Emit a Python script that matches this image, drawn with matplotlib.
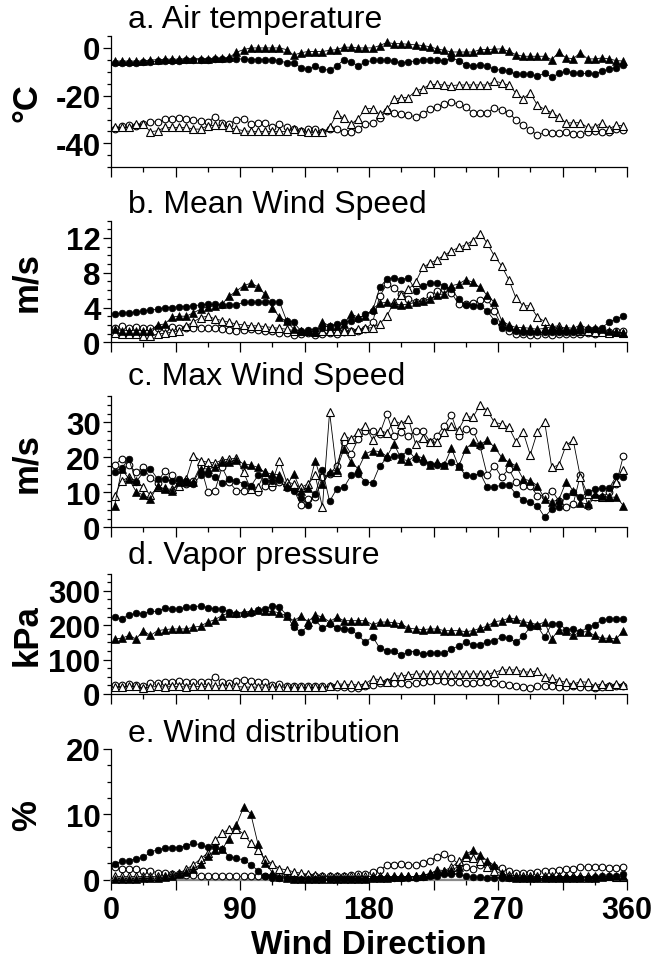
import numpy as np
import matplotlib
matplotlib.use("Agg")
import matplotlib.pyplot as plt
from matplotlib.ticker import MultipleLocator, FixedLocator, FuncFormatter

plt.rcParams['font.family'] = ['Liberation Sans', 'DejaVu Sans']
plt.rcParams['axes.unicode_minus'] = False

# wind direction bin centres (degrees)
direction = np.arange(2.5, 360, 5.0)

# ---------------- a. Air temperature (deg C)
temp_fc = [-6.3,-6.3,-6.3,-6.3,-6.0,-6.0,-5.5,-5.5,-5.3,-5.3,
           -5.0,-5.0,-4.9,-4.9,-4.7,-4.5,-4.5,-4.5,-4.7,-4.9,
           -4.9,-5.0,-5.0,-5.3,-6.3,-6.2,-8.3,-9.0,-7.6,-9.0,
           -9.3,-7.6,-4.9,-6.0,-7.4,-6.0,-5.2,-5.2,-5.2,-5.5,
           -6.3,-6.0,-5.3,-5.0,-4.9,-5.0,-5.5,-4.2,-5.3,-7.0,
           -7.6,-7.0,-7.6,-9.0,-9.3,-9.7,-11.0,-11.0,-11.0,-11.8,
           -10.7,-12.2,-10.7,-9.7,-10.4,-10.7,-10.7,-11.0,-9.7,-9.0,
           -8.3,-7.2]
temp_ft = [-5.5,-5.5,-5.5,-5.5,-5.5,-5.0,-5.0,-4.7,-4.7,-4.7,
           -4.5,-4.5,-4.5,-4.5,-4.3,-4.3,-4.0,-1.8,-0.7,0.0,
           0.0,0.0,0.0,0.0,-0.7,-3.0,-2.0,-1.5,-1.5,-1.5,
           -1.0,-0.7,0.3,0.3,0.0,0.0,0.0,1.0,2.3,1.8,
           1.8,1.5,1.3,1.0,0.5,-0.4,-1.0,-1.7,-1.7,-1.7,
           -1.7,-0.7,-0.7,-0.5,-0.4,-1.4,-2.8,-3.5,-3.5,-3.5,
           -3.5,-4.9,-1.8,-4.2,-4.5,-2.0,-4.6,-4.6,-4.2,-4.6,
           -5.3,-5.5]
temp_oc = [-33.8,-32.6,-32.4,-32.6,-31.9,-31.0,-31.0,-29.9,-29.9,-29.2,
           -29.9,-30.3,-30.6,-31.0,-28.8,-31.3,-31.7,-30.1,-29.9,-31.7,
           -31.5,-31.5,-33.3,-31.9,-33.3,-34.0,-34.7,-34.0,-34.0,-35.4,
           -33.8,-34.0,-35.1,-35.1,-33.8,-31.9,-31.3,-29.2,-26.4,-27.4,
           -27.8,-28.2,-28.8,-27.5,-25.7,-24.6,-23.6,-22.5,-23.6,-24.6,
           -27.4,-27.4,-27.1,-25.3,-26.0,-27.1,-30.1,-32.4,-34.4,-36.5,
           -35.4,-35.7,-35.7,-35.4,-36.1,-36.1,-35.4,-34.7,-35.1,-35.4,
           -34.0,-34.3]
temp_ot = [-33.3,-33.3,-33.3,-31.9,-31.9,-35.1,-34.7,-33.3,-33.3,-33.3,
           -33.3,-34.0,-34.0,-32.6,-32.4,-32.4,-33.3,-34.0,-34.7,-35.0,
           -35.0,-35.0,-35.0,-35.0,-35.0,-34.0,-35.0,-35.4,-35.4,-35.4,
           -33.3,-27.8,-29.4,-31.9,-29.6,-25.4,-25.4,-27.8,-25.7,-21.5,
           -20.8,-20.8,-18.0,-17.1,-15.3,-15.3,-15.5,-15.8,-15.5,-15.5,
           -15.5,-15.5,-15.5,-13.9,-14.6,-15.7,-18.8,-21.3,-18.8,-24.0,
           -25.7,-27.1,-28.9,-31.5,-31.3,-31.3,-33.3,-33.1,-31.3,-33.8,
           -32.4,-32.6]

# ---------------- b. Mean wind speed (m/s)
mean_fc = [3.25,3.35,3.4,3.5,3.6,3.7,3.8,4.0,4.0,4.1,
           4.1,4.2,4.3,4.35,4.35,4.3,4.3,4.3,4.6,4.6,
           4.6,4.6,4.6,4.65,2.5,2.3,1.3,1.45,1.45,1.7,
           1.9,2.1,2.3,2.5,2.7,3.25,3.6,6.3,7.3,7.4,
           7.2,7.4,5.9,6.5,6.8,6.8,6.5,6.1,5.0,4.3,
           4.2,4.2,3.6,2.5,1.7,1.7,1.3,1.15,1.15,1.15,
           1.15,1.15,1.15,1.15,1.15,1.3,1.5,1.5,1.7,2.3,
           2.7,3.0]
mean_ft = [1.5,1.35,1.35,1.35,1.35,1.35,2.0,2.1,2.9,3.0,
           3.0,3.4,3.8,4.1,4.2,4.4,5.3,5.9,6.5,6.8,
           6.4,5.5,4.0,2.9,2.4,1.5,1.35,1.25,1.2,2.3,
           1.9,1.9,2.1,3.25,2.9,3.05,3.8,4.5,4.6,4.4,
           4.3,4.4,4.6,4.75,5.0,5.4,5.6,6.5,6.7,7.2,
           6.9,6.3,5.4,4.6,2.5,2.0,1.7,1.7,1.6,1.5,
           1.6,1.8,1.6,1.7,1.6,2.0,1.6,1.7,1.5,1.35,
           1.15,1.1]
mean_oc = [1.6,1.9,1.7,1.8,1.7,1.6,1.7,1.7,1.8,1.7,
           1.7,1.7,1.7,1.6,1.6,1.5,1.45,1.35,1.45,1.5,
           1.45,1.35,1.25,1.05,1.05,0.85,0.95,1.05,0.85,0.95,
           1.05,0.95,1.15,1.25,1.35,1.5,2.3,5.3,6.7,6.2,
           5.6,5.0,4.6,4.75,5.4,5.9,6.1,5.7,4.4,4.4,
           4.5,4.9,5.0,3.6,1.9,1.35,0.95,0.95,0.85,0.85,
           0.95,0.85,0.95,0.95,0.95,0.95,1.05,0.95,1.15,1.15,
           1.25,1.35]
mean_ot = [1.05,0.95,0.95,0.95,0.75,0.75,0.95,1.05,1.15,1.35,
           1.9,2.35,2.85,3.0,2.7,2.5,2.3,2.1,2.0,1.9,
           1.9,1.8,1.7,1.6,1.5,1.35,1.35,1.25,1.15,1.35,
           1.35,1.35,1.25,1.35,1.5,1.6,1.7,2.1,3.05,4.6,
           5.4,6.1,6.9,8.6,9.1,9.5,10.0,10.5,10.9,11.2,
           11.7,12.5,11.4,9.9,8.8,7.2,5.1,4.2,4.2,2.9,
           2.4,1.8,1.9,1.5,1.5,1.35,1.25,1.15,1.15,1.05,
           1.15,1.05]

# ---------------- c. Max wind speed (m/s)
max_fc = [15.9,17.0,19.5,13.0,15.7,16.7,13.8,13.8,13.1,13.8,
          13.3,12.4,14.8,15.2,14.3,12.6,13.8,13.3,12.4,11.7,
          14.8,13.3,13.3,13.5,11.1,10.5,8.3,6.5,9.5,16.5,
          7.4,11.0,11.4,14.8,15.2,13.0,12.7,17.6,19.7,20.3,
          20.5,21.9,19.5,18.6,18.1,17.8,17.8,18.6,17.4,14.8,
          14.6,15.5,11.4,11.4,12.1,12.1,9.5,7.9,7.1,6.2,
          2.9,5.2,5.7,9.0,10.2,8.6,10.0,10.8,11.1,11.1,
          14.6,14.3]
max_ft = [6.2,16.7,13.8,10.2,9.2,8.1,11.9,10.8,10.5,12.9,
          12.9,12.9,16.7,16.7,17.1,18.6,18.6,19.3,18.1,17.8,
          17.1,15.7,15.2,15.0,11.9,15.2,10.5,11.1,19.0,12.4,
          15.7,16.5,22.4,18.6,16.7,21.0,21.9,21.6,20.3,23.8,
          19.5,19.0,20.5,19.8,17.8,18.6,17.8,22.6,17.4,22.4,
          24.3,23.8,24.8,22.9,20.0,18.6,17.6,13.8,13.3,11.9,
          8.1,7.3,7.9,13.0,10.5,7.0,6.7,9.5,8.9,8.6,
          8.6,6.2]
max_oc = [17.8,19.5,17.8,15.7,17.1,14.0,12.7,16.2,14.8,12.9,
          12.4,13.3,17.6,10.2,10.5,17.1,12.9,10.5,10.5,11.4,
          10.0,11.7,11.4,12.9,11.7,10.8,6.4,8.1,8.6,14.3,
          15.2,17.6,24.3,21.0,25.2,27.6,27.6,26.7,32.4,26.2,
          27.3,26.0,27.6,27.6,24.5,26.2,29.0,32.1,26.2,28.1,
          27.6,23.1,14.8,17.6,14.3,16.7,12.9,11.9,11.9,9.0,
          9.0,10.5,7.6,5.7,6.7,15.0,6.2,8.6,8.6,10.0,
          12.4,20.5]
max_ot = [8.9,13.3,14.3,13.3,11.4,9.2,11.4,11.1,10.8,11.9,
          13.8,20.5,19.0,18.6,18.4,19.2,19.5,19.7,15.7,11.0,
          11.4,15.7,12.9,19.0,13.0,12.4,11.4,12.4,14.8,5.7,
          32.9,15.7,26.2,25.2,27.3,29.0,25.0,27.6,27.0,30.5,
          29.5,31.0,23.8,25.4,24.3,24.3,27.1,29.0,27.9,31.7,
          31.4,35.0,33.3,30.0,29.5,28.6,24.5,27.3,20.7,27.3,
          30.2,17.1,17.8,23.5,24.8,14.3,9.5,9.0,8.6,8.6,
          12.9,16.4]

# ---------------- d. Vapor pressure (kPa)
vap_fc = [223,218,230,234,233,240,240,250,247,247,
          252,252,257,250,247,247,238,233,233,236,
          243,247,257,252,230,194,180,197,215,191,
          204,191,189,187,170,150,167,133,126,124,
          112,123,123,116,119,119,118,131,139,150,
          143,143,152,155,165,162,150,168,194,197,
          165,204,204,187,189,180,194,201,215,218,
          218,218]
vap_ft = [160,162,170,160,184,170,184,187,189,189,
          189,194,197,209,216,228,236,236,238,240,
          243,240,240,236,226,213,226,210,230,223,
          210,223,213,213,213,213,201,209,209,207,
          204,191,189,187,189,189,184,184,184,181,
          184,191,197,210,213,220,218,210,207,201,
          209,160,187,184,170,180,181,170,162,162,
          160,184]
vap_oc = [26,26,28,26,24,33,32,36,34,39,
          36,36,34,34,49,34,32,39,42,39,
          36,36,26,29,24,24,24,22,22,22,
          22,19,19,17,17,22,26,32,36,32,
          32,29,32,36,39,42,39,36,34,32,
          32,34,34,32,29,26,24,19,17,24,
          22,24,19,19,22,19,19,17,19,24,
          24,22]
vap_ot = [21,21,22,22,18,20,22,20,22,22,
          20,22,22,22,24,24,24,22,20,20,
          20,20,20,20,20,19,19,19,19,20,
          22,30,28,28,26,30,44,42,35,53,
          52,56,58,58,58,58,58,58,58,58,
          58,58,58,62,70,70,70,65,63,68,
          48,46,39,34,29,36,34,24,30,24,
          28,26]

# ---------------- e. Wind distribution (%)
dist_fc = [2.4,2.8,2.9,3.2,3.4,4.2,4.6,4.8,4.9,4.9,
           5.2,5.6,5.3,5.0,5.0,4.7,3.5,3.3,3.0,2.3,
           1.4,0.5,0.3,0.3,0.2,0.1,0.1,0.1,0.1,0.1,
           0.1,0.1,0.1,0.1,0.1,0.1,0.2,0.2,0.2,0.2,
           0.3,0.3,0.3,0.4,0.5,0.6,0.8,0.9,0.9,0.5,
           0.4,0.4,0.3,0.3,0.3,0.3,0.2,0.2,0.2,0.2,
           0.2,0.2,0.2,0.2,0.3,0.3,0.3,0.4,0.5,0.5,
           0.6,0.9]
dist_ft = [0.1,0.1,0.1,0.1,0.2,0.2,0.3,0.4,0.5,0.8,
           1.2,1.6,2.4,3.6,4.5,4.7,6.3,8.4,11.1,10.1,
           5.5,2.6,1.1,0.4,0.2,0.1,0.1,0.1,0.1,0.1,
           0.1,0.1,0.1,0.1,0.1,0.1,0.2,0.3,0.3,0.4,
           0.4,0.5,0.5,0.6,1.0,1.3,1.3,1.5,2.0,3.9,
           4.5,3.8,2.9,2.2,1.0,0.4,0.3,0.3,0.2,0.2,
           0.2,0.2,0.2,0.2,0.2,0.3,0.3,0.3,0.4,0.5,
           0.6,0.5]
dist_oc = [1.9,1.6,1.7,1.6,1.4,1.3,1.1,1.0,0.9,0.9,
           0.7,0.7,0.6,0.5,0.5,0.5,0.5,0.5,0.5,0.5,
           0.5,0.5,0.5,0.5,0.5,0.5,0.5,0.5,0.5,0.5,
           0.5,0.6,0.6,0.7,0.8,0.9,1.2,1.5,2.2,2.3,
           2.4,2.2,2.3,2.6,2.9,3.5,3.9,3.3,2.4,1.9,
           1.6,2.2,2.2,1.9,1.8,1.4,1.1,1.1,1.1,1.2,
           1.4,1.4,1.5,1.6,1.7,1.9,2.0,2.0,1.9,1.8,
           1.8,2.0]
dist_ot = [0.5,0.5,0.5,0.5,0.5,0.5,0.5,0.6,0.8,1.0,
           1.6,2.3,3.2,4.1,6.0,7.1,7.8,7.8,7.0,5.6,
           4.5,3.2,2.4,1.7,1.5,1.2,1.0,0.8,0.7,0.6,
           0.5,0.5,0.5,0.5,0.5,0.5,0.5,0.5,0.5,0.5,
           0.5,0.5,0.5,0.7,0.9,1.5,1.4,1.9,2.8,3.4,
           3.3,2.8,2.0,1.4,0.9,0.7,0.6,0.5,0.5,0.5,
           0.5,0.5,0.5,0.5,0.5,0.5,0.5,0.5,0.5,0.5,
           0.4,0.4]

titles = ["a. Air temperature", "b. Mean Wind Speed", "c. Max Wind Speed",
          "d. Vapor pressure", "e. Wind distribution"]
ylabels = ["\u00b0C", "m/s", "m/s", "kPa", "%"]
xtick_labels = [0, 90, 180, 270, 360]

panels = [
    dict(fc=temp_fc, ft=temp_ft, oc=temp_oc, ot=temp_ot, ylim=(-50, 5),
         major=[0, -20, -40], minor=5),
    dict(fc=mean_fc, ft=mean_ft, oc=mean_oc, ot=mean_ot, ylim=(0, 14),
         major=[0, 4, 8, 12], minor=1),
    dict(fc=max_fc, ft=max_ft, oc=max_oc, ot=max_ot, ylim=(0, 37.5),
         major=[0, 10, 20, 30], minor=2.5),
    dict(fc=vap_fc, ft=vap_ft, oc=vap_oc, ot=vap_ot, ylim=(0, 350),
         major=[0, 100, 200, 300], minor=25),
    dict(fc=dist_fc, ft=dist_ft, oc=dist_oc, ot=dist_ot, ylim=(0, 20),
         major=[0, 10, 20], minor=2.5),
]

W, H = 655, 962
fig = plt.figure(figsize=(W / 100, H / 100), dpi=100)

# pixel boxes (top, bottom) of each panel
boxes = [(37, 168.3), (221.5, 343.3), (397, 528.3), (574.5, 695), (750, 880.7)]
title_y = [20, 205, 377, 556, 734]
x_left, x_right = 111, 627

for k, (p, (top, bot)) in enumerate(zip(panels, boxes)):
    ax = fig.add_axes([x_left / W, 1 - bot / H, (x_right - x_left) / W, (bot - top) / H])
    lw = 0.6
    ax.plot(direction, p['oc'], '-', color='black', lw=lw, marker='o', ms=4.8,
            mfc='white', mec='black', mew=0.8, clip_on=False, zorder=3)
    ax.plot(direction, p['ot'], '-', color='black', lw=lw, marker='^', ms=5.6,
            mfc='white', mec='black', mew=0.8, clip_on=False, zorder=3)
    ax.plot(direction, p['fc'], '-', color='black', lw=lw, marker='o', ms=4.8,
            mfc='black', mec='black', mew=0.5, clip_on=False, zorder=4)
    ax.plot(direction, p['ft'], '-', color='black', lw=lw, marker='^', ms=5.6,
            mfc='black', mec='black', mew=0.5, clip_on=False, zorder=4)

    ax.set_xlim(0, 360)
    ax.set_ylim(*p['ylim'])
    for s in ['top', 'right']:
        ax.spines[s].set_visible(False)
    for s in ['left', 'bottom']:
        ax.spines[s].set_linewidth(0.9)
    if k == 4:
        ax.spines['bottom'].set_color('#8a8a8a')
        ax.spines['bottom'].set_linewidth(1.6)

    ax.xaxis.set_major_locator(FixedLocator(np.arange(0, 361, 45)))
    ax.xaxis.set_minor_locator(FixedLocator(np.arange(22.5, 360, 45)))
    if k == 4:
        ax.xaxis.set_major_formatter(FuncFormatter(
            lambda v, pos: str(int(round(v))) if int(round(v)) in xtick_labels else ''))
    else:
        ax.xaxis.set_major_formatter(FuncFormatter(lambda v, pos: ''))
    ax.yaxis.set_major_locator(FixedLocator(p['major']))
    ax.yaxis.set_minor_locator(MultipleLocator(p['minor']))
    ax.yaxis.set_major_formatter(FuncFormatter(lambda v, pos: '%d' % int(round(v))))

    ax.tick_params(axis='x', which='major', direction='out', length=7, width=0.9,
                   labelsize=22, pad=4)
    ax.tick_params(axis='x', which='minor', direction='out', length=3.5, width=0.9)
    ax.tick_params(axis='y', which='major', direction='out', length=5.5, width=0.9,
                   labelsize=22.5, pad=2)
    ax.tick_params(axis='y', which='minor', direction='out', length=3, width=0.9)
    for lab in ax.get_xticklabels() + ax.get_yticklabels():
        lab.set_fontweight('bold')

    if k == 4:
        ax.axhline(0, color='#8a8a8a', lw=1.6, zorder=2)

    fig.text(128 / W, 1 - title_y[k] / H, titles[k], fontsize=23,
             ha='left', va='center')
    fig.text(27 / W, 1 - (top + bot) / 2 / H, ylabels[k], fontsize=25,
             fontweight='bold', rotation=90, ha='center', va='center')

fig.text((x_left + x_right) / 2 / W, 1 - 946 / H, "Wind Direction", fontsize=24,
         fontweight='bold', ha='center', va='center')

fig.savefig("out.png", dpi=100)
